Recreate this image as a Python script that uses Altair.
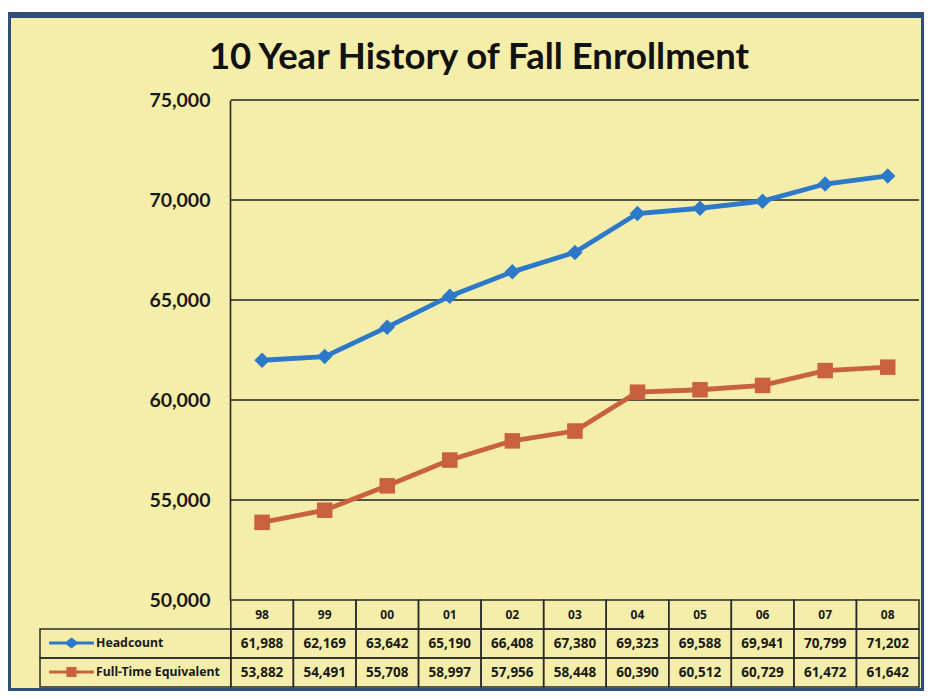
import altair as alt
import pandas as pd

# ---------------- data ----------------
years = ["98", "99", "00", "01", "02", "03", "04", "05", "06", "07", "08"]
headcount = [61988, 62169, 63642, 65190, 66408, 67380, 69323, 69588, 69941, 70799, 71202]
fte = [53882, 54491, 55708, 56997, 57956, 58448, 60390, 60512, 60729, 61472, 61642]
fte_printed = ["53,882", "54,491", "55,708", "58,997", "57,956", "58,448",
               "60,390", "60,512", "60,729", "61,472", "61,642"]
series = ["Headcount", "Full-Time Equivalent"]
y_ticks = [50000, 55000, 60000, 65000, 70000, 75000]
title_text = "10 Year History of Fall Enrollment"

# ---------------- style ----------------
BLUE = "#2c79c9"
ORANGE = "#c9603e"
FRAME = "#2f4e78"
BG = "#f4eeaa"
INK = "#1a1a1a"
W, H = 916, 676
LABEL_COLS = 3.05  # width of the legend column, in table-column units

X_SCALE = alt.Scale(domain=[-LABEL_COLS, len(years)], range=[32, 911], nice=False, zero=False)
Y_SCALE = alt.Scale(domain=[y_ticks[0], y_ticks[-1]], range=[585, 85], nice=False, zero=False)
R_SCALE = alt.Scale(domain=[0, 3], range=[585, 672], nice=False, zero=False)

Y_AXIS = alt.Axis(values=y_ticks, format=",.0f", title=None, labelFont="Lato",
                  labelFontSize=19.5, labelFontWeight="bold", labelColor=INK,
                  ticks=False, tickSize=0, labelPadding=20, domainColor="#222",
                  domainWidth=1.6, grid=False, offset=-222)

# ---------------- line chart ----------------
rows = []
for name, vals in zip(series, [headcount, fte]):
    for i, v in enumerate(vals):
        rows.append({"series": name, "idx": i, "value": v})
line_df = pd.DataFrame(rows)

grid_df = pd.DataFrame({"tick": y_ticks[1:]})
grid = (
    alt.Chart(grid_df)
    .transform_calculate(x0="0", x1=str(len(years)))
    .mark_rule(color="#222", strokeWidth=1.6)
    .encode(
        x=alt.X("x0:Q", scale=X_SCALE, axis=None),
        x2="x1:Q",
        y=alt.Y("tick:Q", scale=Y_SCALE, axis=Y_AXIS),
    )
)


def series_layers(name, color, shape, size):
    base = (
        alt.Chart(line_df)
        .transform_filter(alt.datum.series == name)
        .transform_calculate(xc="datum.idx + 0.5")
    )
    enc = dict(
        x=alt.X("xc:Q", scale=X_SCALE, axis=None),
        y=alt.Y("value:Q", scale=Y_SCALE, axis=Y_AXIS),
    )
    line = base.mark_line(color=color, strokeWidth=4.8).encode(**enc)
    pts = base.mark_point(shape=shape, filled=True, size=size, color=color, opacity=1).encode(**enc)
    return [line, pts]


line_group = alt.layer(
    grid,
    *series_layers(series[0], BLUE, "diamond", 240),
    *series_layers(series[1], ORANGE, "square", 240),
)

# ---------------- data table ----------------
cells = []
for i, yr in enumerate(years):
    cells.append({"c0": i, "c1": i + 1, "r": 0, "text": yr, "kind": "head"})
    cells.append({"c0": i, "c1": i + 1, "r": 1, "text": f"{headcount[i]:,}", "kind": "val"})
    cells.append({"c0": i, "c1": i + 1, "r": 2, "text": fte_printed[i], "kind": "val"})
for r in (1, 2):
    cells.append({"c0": -LABEL_COLS, "c1": 0, "r": r, "text": "", "kind": "label"})
cell_df = pd.DataFrame(cells)

cell_base = alt.Chart(cell_df).transform_calculate(
    r1="datum.r + 1", cx="(datum.c0 + datum.c1) / 2", cy="datum.r + 0.5"
)
cell_rects = cell_base.mark_rect(fillOpacity=0, stroke="#2a2a2a", strokeWidth=1.5).encode(
    x=alt.X("c0:Q", scale=X_SCALE, axis=None),
    x2="c1:Q",
    y=alt.Y("r:Q", scale=R_SCALE, axis=None),
    y2="r1:Q",
)
head_text = cell_base.transform_filter(alt.datum.kind == "head").mark_text(
    font="Noto Sans", fontWeight="bold", fontSize=12, color=INK
).encode(
    x=alt.X("cx:Q", scale=X_SCALE, axis=None),
    y=alt.Y("cy:Q", scale=R_SCALE, axis=None),
    text="text:N",
)
val_text = cell_base.transform_filter(alt.datum.kind == "val").mark_text(
    font="Noto Sans", fontWeight="bold", fontSize=13.5, color=INK
).encode(
    x=alt.X("cx:Q", scale=X_SCALE, axis=None),
    y=alt.Y("cy:Q", scale=R_SCALE, axis=None),
    text="text:N",
)

# legend symbols: line with a marker on it
PATH_D = ("M-3.2,-0.22L-0.75,-0.22L0,-0.8L0.75,-0.22L3.2,-0.22L3.2,0.22"
          "L0.75,0.22L0,0.8L-0.75,0.22L-3.2,0.22Z")
PATH_S = ("M-3.2,-0.22L-0.72,-0.22L-0.72,-0.72L0.72,-0.72L0.72,-0.22L3.2,-0.22L3.2,0.22"
          "L0.72,0.22L0.72,0.72L-0.72,0.72L-0.72,0.22L-3.2,0.22Z")
LEG = alt.Legend(title=None, orient="none", legendX=56.5, legendY=621, padding=0,
                 symbolSize=196, symbolStrokeWidth=0, symbolOpacity=1,
                 labelFont="Noto Sans", labelFontWeight="bold", labelFontSize=12.3,
                 labelColor=INK, labelOffset=17.5, rowPadding=15)
legend_layer = (
    alt.Chart(line_df)
    .transform_filter("false")
    .mark_point(filled=True, opacity=1)
    .encode(
        color=alt.Color("series:N", scale=alt.Scale(domain=series, range=[BLUE, ORANGE]), legend=LEG),
        shape=alt.Shape("series:N", scale=alt.Scale(domain=series, range=[PATH_D, PATH_S]), legend=LEG),
    )
)

table_group = alt.layer(cell_rects, head_text, val_text, legend_layer)

chart = (
    alt.layer(line_group, table_group)
    .resolve_scale(y="independent")
    .properties(
        width=W,
        height=H,
        padding={"top": 7, "left": 0, "right": 0, "bottom": 0},
        background="#ffffff",
        view=alt.ViewBackground(fill=BG, fillOpacity=1, stroke=FRAME, strokeWidth=6),
        title=alt.TitleParams(
            text=title_text, font="Lato", fontSize=36.5, fontWeight="bold", color="#111111",
            anchor="middle", frame="group", offset=-90, baseline="alphabetic", dx=13,
        ),
    )
    .configure_view(stroke=FRAME, strokeWidth=6, fill=BG)
)

chart.save("out.html", embed_options={"renderer": "svg", "actions": False})
